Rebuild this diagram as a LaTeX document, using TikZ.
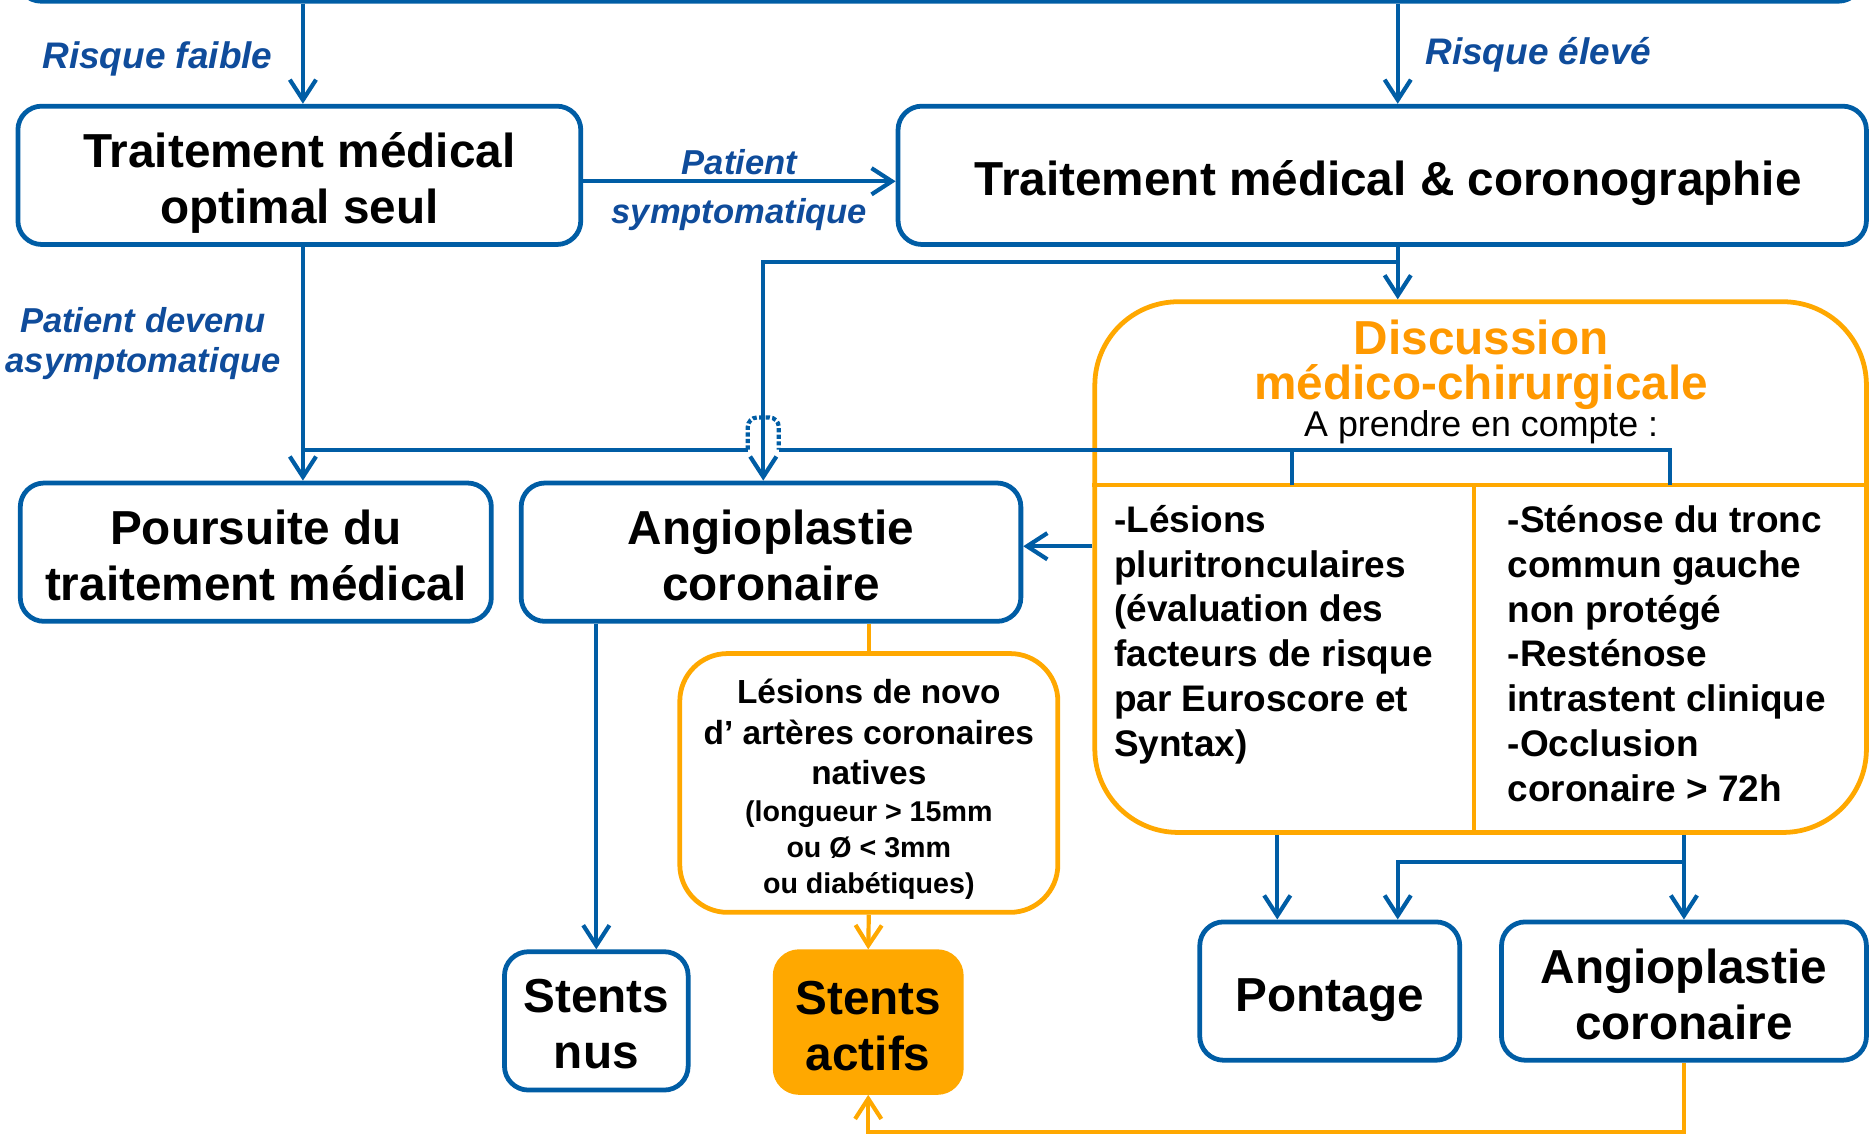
\documentclass[tikz,border=0pt]{standalone}
\usepackage{fontspec}
\setmainfont{Liberation Sans}
\usetikzlibrary{arrows.meta,positioning,calc}
\definecolor{boxblue}{RGB}{0,93,165}
\definecolor{textblue}{RGB}{15,76,155}
\definecolor{boxorange}{RGB}{255,168,0}
\definecolor{titleorange}{RGB}{255,153,0}
\newcommand{\notesize}{\fontsize{24}{30}\selectfont}
\newcommand{\tall}[1][42pt]{\rule{0pt}{#1}}
\tikzset{
  bluebox/.style={draw=boxblue, line width=4pt, rounded corners=20pt, fill=white, align=center, inner sep=0pt,
    font=\bfseries\fontsize{40}{47}\selectfont, execute at end node={\rule[-8.4pt]{0pt}{8.4pt}}},
  orangebox/.style={draw=boxorange, line width=4pt, rounded corners=40pt, fill=white, align=center, inner sep=0pt},
  lbl/.style={text=textblue, align=center, inner sep=0pt, font=\bfseries\itshape\fontsize{29}{34}\selectfont},
  cell/.style={align=left, inner sep=0pt, anchor=west, font=\bfseries\fontsize{31}{37.5}\selectfont},
  link/.style={draw=boxblue, line width=3.5pt},
  conn/.style={link, -{Straight Barb[length=17pt,width=22pt,line width=3.5pt]}},
  olink/.style={draw=boxorange, line width=3.5pt},
  oconn/.style={olink, -{Straight Barb[length=17pt,width=22pt,line width=3.5pt]}}
}
\begin{document}
\begin{tikzpicture}[x=1pt,y=-1pt]
\useasboundingbox (0,0) rectangle (1568,951);

% boxes
\node[bluebox, minimum width=1547, minimum height=62] (ctx) at (788,-30) {};
\node[bluebox, minimum width=472, minimum height=116] (A) at (251,147) {\tall Traitement médical\\optimal seul};
\node[bluebox, minimum width=812, minimum height=116] (B) at (1159,147) {\tall\hspace*{10pt}Traitement médical \& coronographie};
\node[bluebox, minimum width=395, minimum height=116] (P) at (214.5,463) {\tall Poursuite du\\traitement médical};
\node[bluebox, minimum width=419, minimum height=116] (angM) at (646.5,463) {\tall Angioplastie\\coronaire};
\node[orangebox, rounded corners=70pt, minimum width=647, minimum height=445] (disc) at (1241.5,475.5) {};
\node[orangebox, minimum width=317, minimum height=217, font=\bfseries\fontsize{28}{34}\selectfont] (les) at (728.5,656.5)
  {\tall[31pt]Lésions de novo\\d’ artères coronaires\\natives\\[-3pt]
   \notesize(longueur > 15mm\\[-4pt]\notesize ou Ø < 3mm\\[-4pt]\notesize ou diabétiques)};
\node[bluebox, minimum width=154, minimum height=116] (nus) at (500,856) {\tall Stents\\nus};
\node[bluebox, draw=boxorange, fill=boxorange, minimum width=156, minimum height=118] (act) at (728,857) {\tall Stents\\actifs};
\node[bluebox, minimum width=218, minimum height=116] (pont) at (1115,831) {\tall Pontage};
\node[bluebox, minimum width=306, minimum height=116] (angR) at (1412,831) {\tall Angioplastie\\coronaire};

% inside the discussion box
\node[align=center, inner sep=0pt, text=titleorange, font=\bfseries\fontsize{40}{38}\selectfont] (dtitle) at (1242,306) {Discussion\\médico-chirurgicale};
\node[inner sep=0pt, font=\fontsize{30}{36}\selectfont] (dsub) at (1242,358) {A prendre en compte :};
\draw[olink] (disc.west |- 0,407) -- (disc.east |- 0,407);
\draw[olink] (1236,407) -- (disc.south -| 1236,0);
\node[cell] (critL) at (934,532) {-Lésions\\pluritronculaires\\(évaluation des\\facteurs de risque\\par Euroscore et\\Syntax)};
\node[cell] (critR) at (1264,548) {-Sténose du tronc\\commun gauche\\non protégé\\-Resténose\\intrastent clinique\\-Occlusion\\coronaire > 72h};

% labels
\node[lbl, font=\bfseries\itshape\fontsize{31}{34}\selectfont] (lowrisk) at (132,49) {Risque faible};
\node[lbl, font=\bfseries\itshape\fontsize{31}{34}\selectfont] (highrisk) at (1290,46) {Risque élevé};
\node[lbl, font=\bfseries\itshape\fontsize{29}{41}\selectfont] (sympt) at (620,159) {Patient\\symptomatique};
\node[lbl] (asympt) at (120,288) {Patient devenu\\asymptomatique};

% helper points
\coordinate (split) at (1172,220);
\coordinate (turn) at (640,220);
\coordinate (kL) at (1083,377);
\coordinate (kR) at (1400,377);
\coordinate (hopL) at (627,377);
\coordinate (hopR) at (653,377);
\coordinate (fork) at (1412,723);
\coordinate (low) at (1412,949);

% connectors
\draw[conn] ([xshift=3pt]ctx.south -| A.north) -- ([xshift=3pt]A.north);
\draw[conn] (ctx.south -| split) -- (B.north -| split);
\draw[conn] ([yshift=-5pt]A.east) -- ([yshift=-5pt]B.west);
\draw[conn] (B.south -| split) -- (disc.north -| split);
\draw[conn] (split) -- (turn) -- (turn |- angM.north);
\draw[conn] ([xshift=3pt]A.south) -- ([xshift=3pt]A.south |- P.north);
\draw[link] (kL |- 0,407) -- (kL);
\draw[link] (kR |- 0,407) -- (kR) -- (hopR);
\draw[link] (hopL) -- ([xshift=3pt]A.south |- hopL);
\draw[link, dotted, rounded corners=8pt] (hopL) -- ++(0,-27) -- ($(hopR)+(0,-27)$) -- (hopR);
\draw[conn] ([yshift=5pt]disc.west |- angM.east) -- ([yshift=5pt]angM.east);
\draw[conn] (angM.south -| nus.north) -- (nus.north);
\draw[olink] (angM.south -| les.north) -- (les.north);
\draw[oconn] (les.south) -- (act.north);
\draw[conn] (disc.south -| 1071,0) -- (pont.north -| 1071,0);
\draw[conn] (disc.south -| angR.north) -- (angR.north);
\draw[conn] (fork) -| (pont.north -| split);
\draw[oconn] (angR.south) -- (low) -| (act.south);
\end{tikzpicture}
\end{document}
